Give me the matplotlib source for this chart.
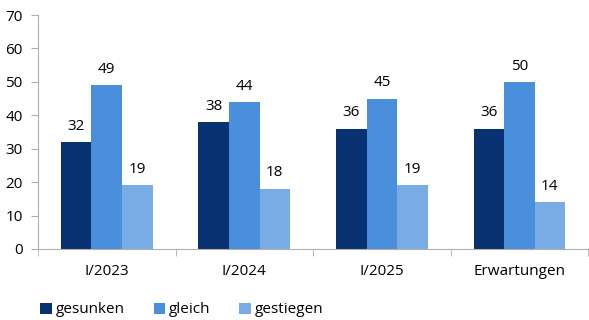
import matplotlib.pyplot as plt
import numpy as np

categories = ["I/2023", "I/2024", "I/2025", "Erwartungen"]
series = ["gesunken", "gleich", "gestiegen"]
gesunken = [32, 38, 36, 36]
gleich = [49, 44, 45, 50]
gestiegen = [19, 18, 19, 14]
colors = ["#083171", "#4a8fdb", "#79ace4"]

plt.rcParams['font.family'] = ['Open Sans', 'DejaVu Sans']
plt.rcParams['font.size'] = 11

fig = plt.figure(figsize=(5.89, 3.2), dpi=100)
ax = fig.add_axes([0.0645, 0.222, 0.934, 0.731])

x = np.arange(len(categories))
w = 0.222
for i, (name, vals) in enumerate(zip(series, [gesunken, gleich, gestiegen])):
    pos = x + (i - 1) * w
    ax.bar(pos, vals, w, color=colors[i], label=name, linewidth=0)
    for p, v in zip(pos, vals):
        ax.text(p, v + 2.5, str(v), ha='center', va='bottom', fontsize=11)

ax.set_xlim(-0.5, len(categories) - 0.5)
ax.set_ylim(0, 70)
ax.set_yticks(range(0, 80, 10))
ax.set_xticks(x)
ax.set_xticklabels(categories)
ax.set_xticks(np.arange(-0.5, len(categories)), minor=True)
ax.tick_params(axis='x', which='major', length=0, pad=11)
ax.tick_params(axis='x', which='minor', length=5, color='#b0b0b0')
ax.tick_params(axis='y', length=5, color='#b0b0b0', pad=6)

for s in ['top', 'right']:
    ax.spines[s].set_visible(False)
for s in ['left', 'bottom']:
    ax.spines[s].set_color('#b0b0b0')

fig.legend(loc='lower left', bbox_to_anchor=(0.045, -0.035), ncol=3, frameon=False,
           handlelength=0.75, handleheight=0.75, handletextpad=0.25, columnspacing=1.9,
           fontsize=11)

fig.savefig("out.png", dpi=100)
